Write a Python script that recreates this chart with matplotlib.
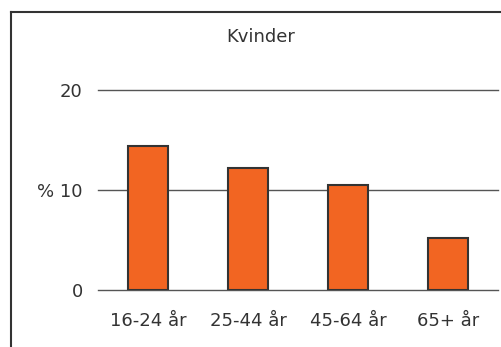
import matplotlib
matplotlib.use("Agg")
import matplotlib.pyplot as plt
from matplotlib.lines import Line2D

# data
groups = ["16-24 år", "25-44 år", "45-64 år", "65+ år"]
kvinder = [14.4, 12.2, 10.5, 5.2]
yticks = [0, 10, 20]
ytick_labels = ["0", "% 10", "20"]

W, H = 502, 347
fig = plt.figure(figsize=(W / 100, H / 100), dpi=100)

# axes in pixel terms: x 98..498, y=0 at 290, y=20 at 90
ax = fig.add_axes([98 / W, 1 - 290 / H, 400 / W, 200 / H])
x = range(len(groups))
ax.bar(x, kvinder, width=0.4, color="#F26522", edgecolor="#333333",
       linewidth=1.5, zorder=3)

ax.set_xlim(-0.5, 3.5)
ax.set_ylim(0, 20)
ax.set_yticks(yticks)
ax.set_yticklabels(ytick_labels)
ax.set_xticks(list(x))
ax.set_xticklabels(groups)
ax.grid(axis="y", color="#555555", linewidth=1, zorder=1)
ax.set_axisbelow(True)
for s in ax.spines.values():
    s.set_visible(False)
ax.tick_params(length=0, labelsize=13, colors="#333333", pad=11)
ax.tick_params(axis="x", pad=16)
for gl in ax.get_ygridlines():
    gl.set_clip_on(False)

fig.text(261 / W, 1 - 37 / H, "Kvinder", ha="center", va="center",
         fontsize=13, color="#333333")

# outer frame (clipped by image on right and bottom)
fig.add_artist(Line2D([11 / W, 11 / W], [0, 1 - 12 / H], color="#333333",
                      linewidth=1.5, transform=fig.transFigure))
fig.add_artist(Line2D([11 / W, 1], [1 - 12 / H, 1 - 12 / H], color="#333333",
                      linewidth=1.5, transform=fig.transFigure))

fig.savefig("out.png", dpi=100)
